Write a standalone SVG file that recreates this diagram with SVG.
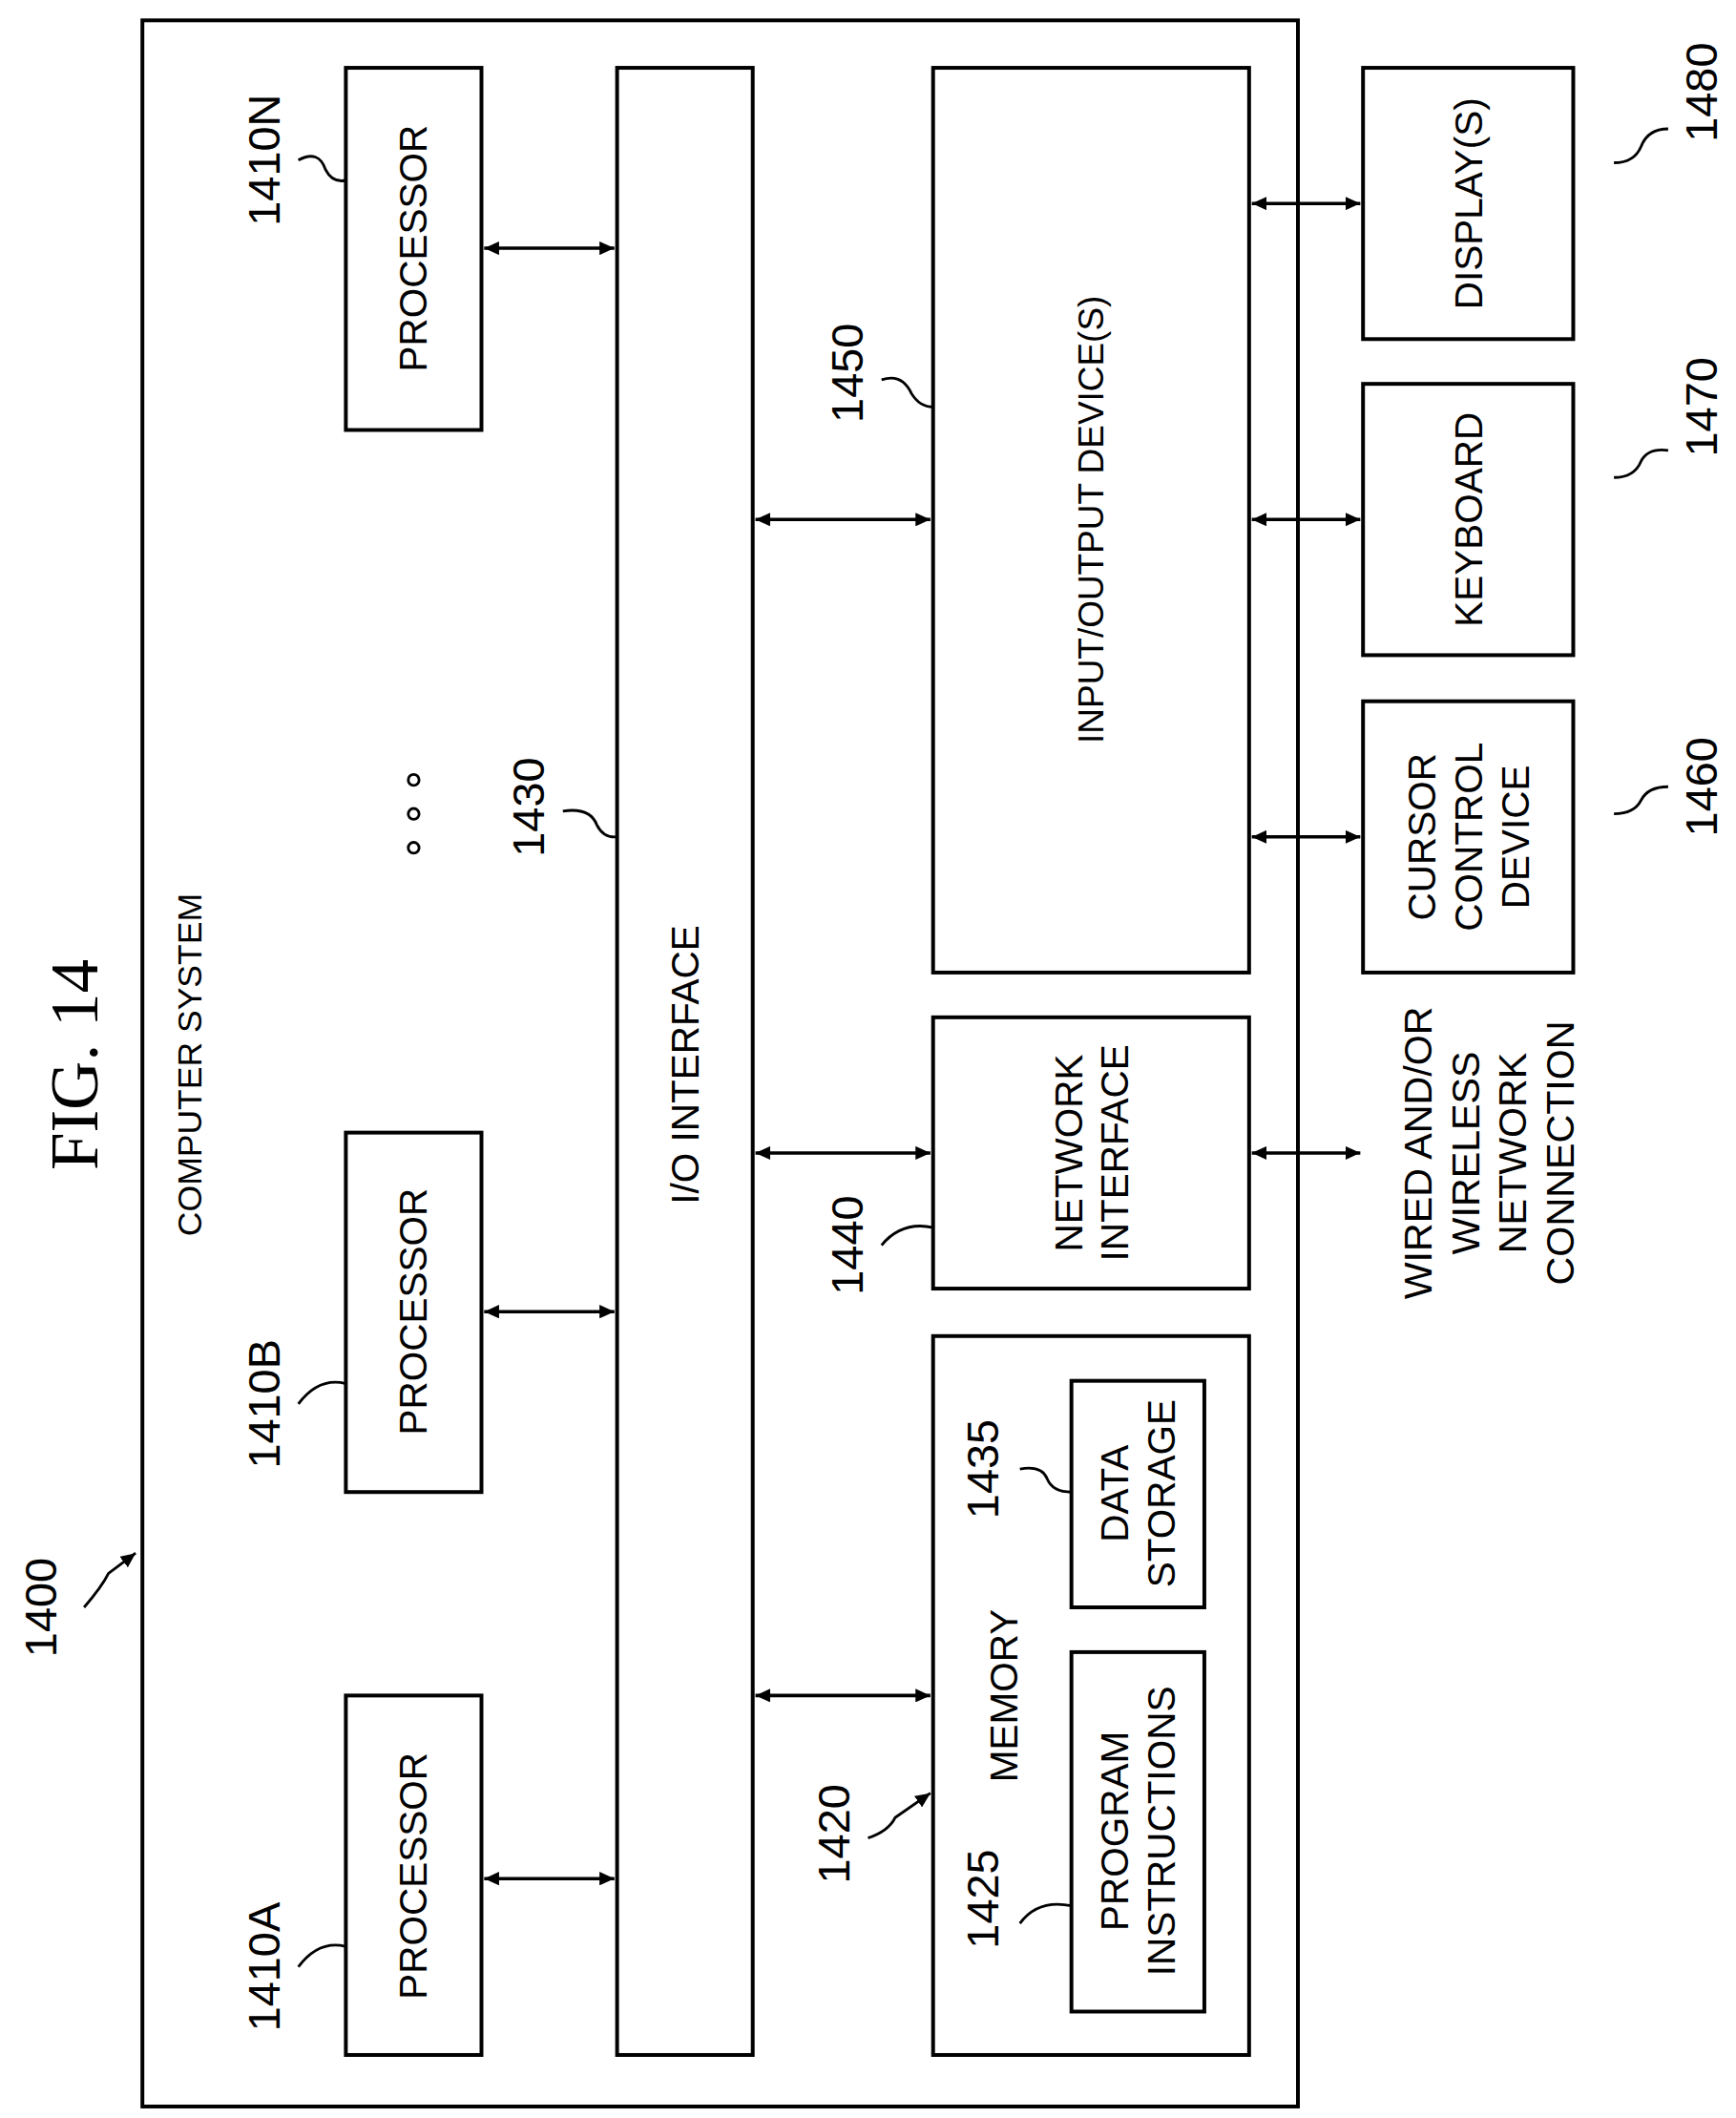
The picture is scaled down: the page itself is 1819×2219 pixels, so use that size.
<svg xmlns="http://www.w3.org/2000/svg" width="1819" height="2219" viewBox="0 0 1819 2219">
<defs>
<marker id="a" viewBox="0 0 10 10" refX="10" refY="5" markerWidth="11" markerHeight="10" orient="auto-start-reverse" markerUnits="userSpaceOnUse" preserveAspectRatio="none"><path d="M0,0 L10,5 L0,10 z" fill="#000"/></marker>
<style>
.b{fill:#fff;stroke:#000;stroke-width:2.8}
.t{font-family:"Liberation Sans",Arial,sans-serif;font-size:28.5px;text-anchor:middle;dominant-baseline:central}
.l{font-family:"Liberation Sans",Arial,sans-serif;font-size:33px;text-anchor:middle;dominant-baseline:central}
.c{fill:none;stroke:#000;stroke-width:2}
.ar{stroke:#000;stroke-width:2.5;fill:none;marker-start:url(#a);marker-end:url(#a)}
</style>
</defs>
<rect width="1819" height="2219" fill="#fff"/>
<g transform="scale(1.4211)">
<text class="t" transform="translate(55,785) rotate(-90)" style="font-family:'Liberation Serif',serif;font-size:50px">FIG. 14</text>
<g id="n1400"><rect class="b" x="105" y="15" width="852" height="1538"/>
<text class="t" transform="translate(140,785) rotate(-90)" style="font-size:25px">COMPUTER SYSTEM</text>
<text class="l" transform="translate(30,1185) rotate(-90)">1400</text>
<path class="c" d="M62,1185 Q75,1170 80,1160 L100,1145" marker-end="url(#a)"/></g>
<g id="n1410N"><rect class="b" x="255" y="50" width="100" height="267"/><text class="t" transform="translate(305,183) rotate(-90)">PROCESSOR</text>
<text class="l" transform="translate(195,118) rotate(-90)">1410N</text><path class="c" d="M220,118 Q235,110 240,125 Q245,135 255,133"/></g>
<g id="n1410B"><rect class="b" x="255" y="835" width="100" height="265"/><text class="t" transform="translate(305,967) rotate(-90)">PROCESSOR</text>
<text class="l" transform="translate(195,1035) rotate(-90)">1410B</text><path class="c" d="M220,1035 Q235,1015 255,1020"/></g>
<g id="n1410A"><rect class="b" x="255" y="1250" width="100" height="265"/><text class="t" transform="translate(305,1383) rotate(-90)">PROCESSOR</text>
<text class="l" transform="translate(195,1450) rotate(-90)">1410A</text><path class="c" d="M220,1450 Q235,1430 255,1435"/></g>
<g id="dots" fill="none" stroke="#000" stroke-width="2"><circle cx="305" cy="575" r="4"/><circle cx="305" cy="600" r="4"/><circle cx="305" cy="625" r="4"/></g>
<g id="n1430"><rect class="b" x="455" y="50" width="100" height="1465"/><text class="t" transform="translate(505,785) rotate(-90)">I/O INTERFACE</text>
<text class="l" transform="translate(390,595) rotate(-90)">1430</text><path class="c" d="M415,598 Q435,595 440,608 Q445,618 455,617"/></g>
<g id="n1450"><rect class="b" x="688" y="50" width="233" height="667"/><text class="t" transform="translate(805,383) rotate(-90)" style="font-size:26px">INPUT/OUTPUT DEVICE(S)</text>
<text class="l" transform="translate(625,275) rotate(-90)">1450</text><path class="c" d="M650,280 Q665,275 672,290 Q678,300 688,300"/></g>
<g id="n1440"><rect class="b" x="688" y="750" width="233" height="200"/><text class="t" transform="translate(805,850) rotate(-90)"><tspan x="0" dy="-0.6em">NETWORK</tspan><tspan x="0" dy="1.2em">INTERFACE</tspan></text>
<text class="l" transform="translate(625,918) rotate(-90)">1440</text><path class="c" d="M650,918 Q665,900 688,905"/></g>
<g id="n1420"><rect class="b" x="688" y="985" width="233" height="530"/><text class="t" transform="translate(740,1250) rotate(-90)">MEMORY</text>
<text class="l" transform="translate(615,1352) rotate(-90)">1420</text><path class="c" d="M640,1355 Q655,1350 660,1340 L686,1322" marker-end="url(#a)"/></g>
<g id="n1435"><rect class="b" x="790" y="1018" width="98" height="167"/><text class="t" transform="translate(839,1101) rotate(-90)"><tspan x="0" dy="-0.6em">DATA</tspan><tspan x="0" dy="1.2em">STORAGE</tspan></text>
<text class="l" transform="translate(725,1083) rotate(-90)">1435</text><path class="c" d="M752,1083 Q768,1080 772,1090 Q776,1100 790,1100"/></g>
<g id="n1425"><rect class="b" x="790" y="1218" width="98" height="265"/><text class="t" transform="translate(839,1350) rotate(-90)"><tspan x="0" dy="-0.6em">PROGRAM</tspan><tspan x="0" dy="1.2em">INSTRUCTIONS</tspan></text>
<text class="l" transform="translate(725,1400) rotate(-90)">1425</text><path class="c" d="M752,1418 Q765,1400 790,1405"/></g>
<g id="n1480"><rect class="b" x="1005" y="50" width="155" height="200"/><text class="t" transform="translate(1083,150) rotate(-90)">DISPLAY(S)</text>
<text class="l" transform="translate(1255,68) rotate(-90)">1480</text><path class="c" d="M1230,95 Q1215,95 1210,108 Q1205,120 1190,120"/></g>
<g id="n1470"><rect class="b" x="1005" y="283" width="155" height="200"/><text class="t" transform="translate(1083,383) rotate(-90)">KEYBOARD</text>
<text class="l" transform="translate(1255,300) rotate(-90)">1470</text><path class="c" d="M1230,332 Q1215,330 1210,340 Q1205,352 1190,352"/></g>
<g id="n1460"><rect class="b" x="1005" y="517" width="155" height="200"/><text class="t" transform="translate(1083,617) rotate(-90)"><tspan x="0" dy="-1.2em">CURSOR</tspan><tspan x="0" dy="1.2em">CONTROL</tspan><tspan x="0" dy="1.2em">DEVICE</tspan></text>
<text class="l" transform="translate(1255,580) rotate(-90)">1460</text><path class="c" d="M1230,580 Q1215,580 1210,590 Q1205,600 1190,600"/></g>
<text class="l" transform="translate(1098,850) rotate(-90)" style="font-size:29px"><tspan x="0" dy="-1.8em">WIRED AND/OR</tspan><tspan x="0" dy="1.2em">WIRELESS</tspan><tspan x="0" dy="1.2em">NETWORK</tspan><tspan x="0" dy="1.2em">CONNECTION</tspan></text>
<g id="connectors">
<path class="ar" d="M357,183 H453"/><path class="ar" d="M357,967 H453"/><path class="ar" d="M357,1385 H453"/>
<path class="ar" d="M557,383 H686"/><path class="ar" d="M557,850 H686"/><path class="ar" d="M557,1250 H686"/>
<path class="ar" d="M923,150 H1003"/><path class="ar" d="M923,383 H1003"/><path class="ar" d="M923,617 H1003"/><path class="ar" d="M923,850 H1003"/>
</g>
</g>
</svg>
